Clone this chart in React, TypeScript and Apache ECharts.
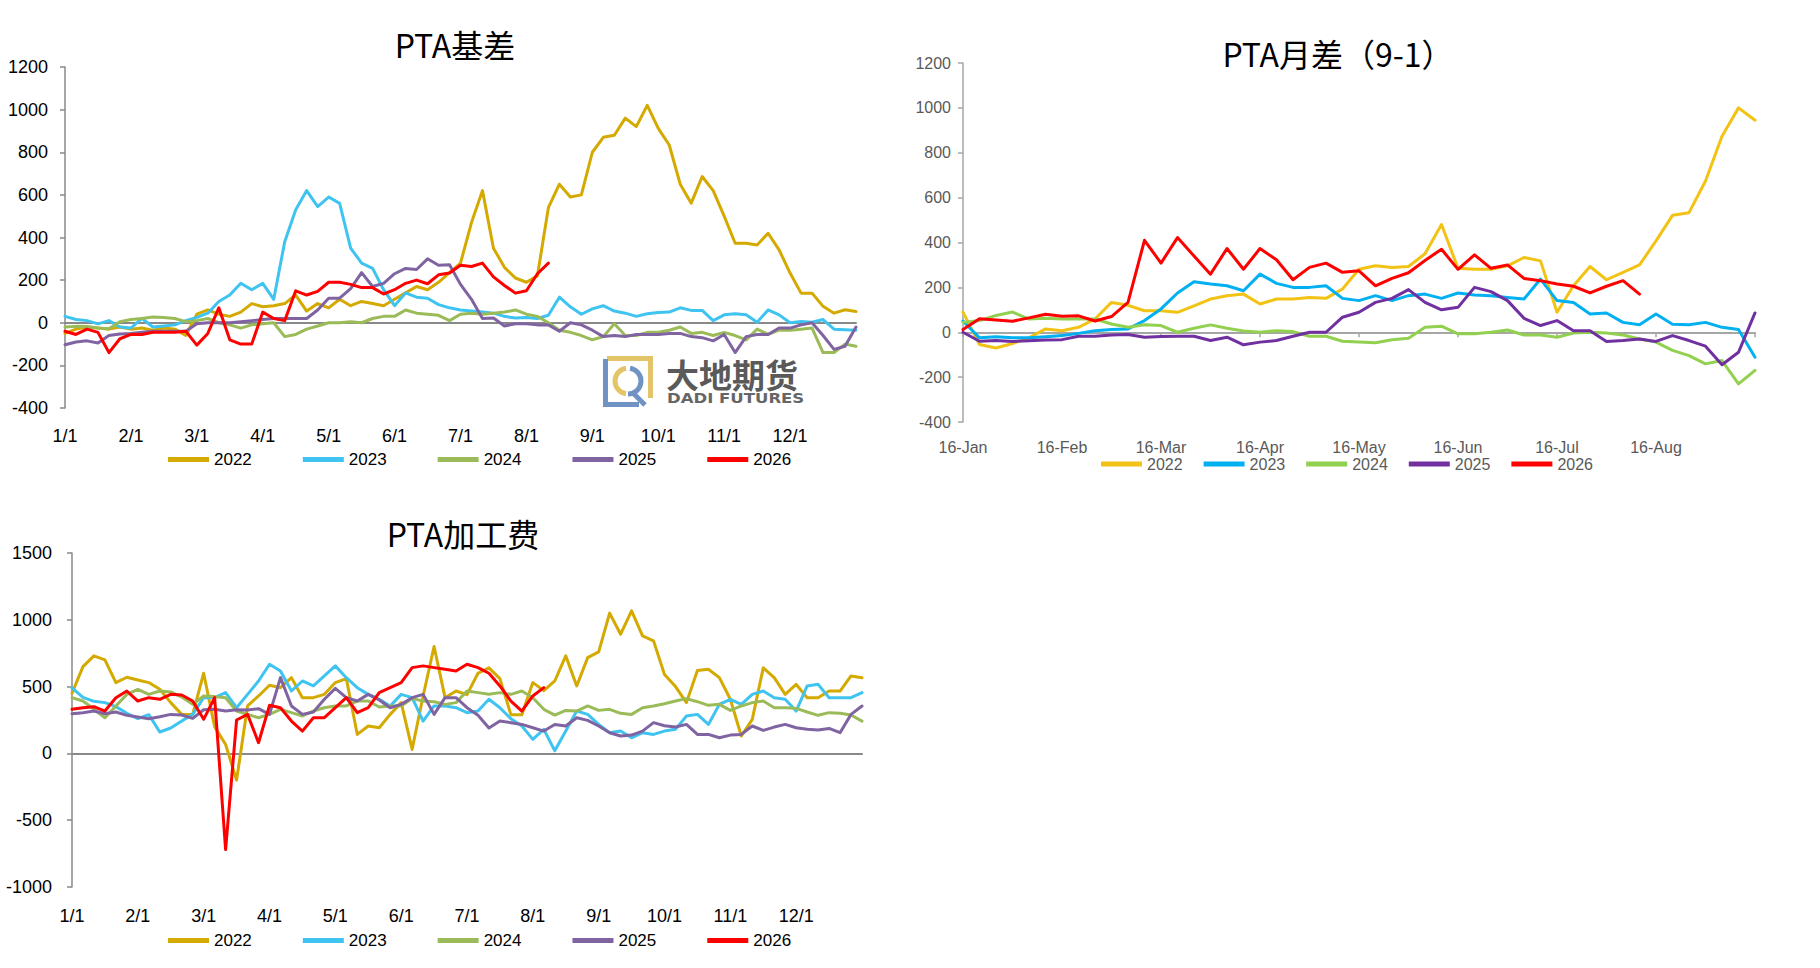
import React, { useEffect, useRef } from 'react';
import * as echarts from 'echarts';

// ---------- categories / ticks ----------
const years = ['2022', '2023', '2024', '2025', '2026'];
const monthTicks = ['1/1', '2/1', '3/1', '4/1', '5/1', '6/1', '7/1', '8/1', '9/1', '10/1', '11/1', '12/1'];
const yearEndTick = '12/31';
const spreadTicks = ['16-Jan', '16-Feb', '16-Mar', '16-Apr', '16-May', '16-Jun', '16-Jul', '16-Aug'];
const spreadEndTick = '16-Sep';
const STEPS_PER_MONTH = 6;

// ---------- PTA基差 ----------
const basis2022 = [-50, -30, -20, -25, -30, -20, -30, -25, -35, -25, -30, -60, 40, 60, 40, 30, 50, 90, 75, 80, 90, 130, 55, 90, 70, 110, 80, 100, 90, 80, 110, 140, 170, 155, 190, 235, 280, 470, 620, 350, 260, 210, 190, 220, 540, 650, 590, 600, 800, 870, 880, 960, 920, 1020, 912, 834, 650, 561, 686, 620, 500, 373, 373, 365, 420, 342, 233, 139, 139, 77, 45, 61, 53];
const basis2023 = [30, 15, 10, -5, 10, -20, -25, 20, -20, -15, -10, 10, 25, 45, 100, 130, 185, 155, 185, 110, 380, 530, 620, 545, 590, 560, 350, 280, 255, 155, 80, 140, 120, 115, 85, 70, 60, 55, 50, 45, 30, 22, 25, 20, 35, 120, 75, 40, 65, 80, 55, 45, 30, 42, 48, 50, 70, 58, 58, 10, 37, 42, 37, 2, 60, 37, 0, 6, 2, 15, -30, -33, -35];
const basis2024 = [-20, -17, -18, -25, -28, 5, 15, 20, 27, 25, 20, 5, 10, 20, 0, -10, -25, -10, -5, 0, -65, -55, -30, -15, 0, 0, 5, 0, 20, 30, 30, 60, 45, 40, 35, 10, 40, 45, 40, 45, 50, 60, 40, 30, 0, -35, -45, -60, -80, -65, -5, -60, -60, -45, -45, -35, -20, -50, -45, -60, -45, -60, -80, -30, -55, -35, -35, -30, -25, -140, -140, -100, -110];
const basis2025 = [-103, -90, -85, -95, -60, -53, -50, -45, -40, -40, -40, -40, -5, 0, 0, 0, 5, 10, 15, 20, 20, 20, 20, 60, 115, 115, 160, 235, 170, 185, 230, 255, 250, 300, 270, 272, 180, 110, 20, 22, -15, -5, -5, -10, -10, -40, 0, -10, -35, -65, -60, -65, -55, -55, -55, -50, -50, -65, -70, -85, -55, -140, -65, -55, -55, -25, -25, -10, 0, -60, -125, -110, -20];
const basis2026 = [-40, -55, -30, -45, -140, -75, -55, -55, -45, -45, -45, -40, -105, -50, 70, -80, -100, -100, 50, 20, 10, 150, 130, 147, 190, 190, 180, 165, 165, 135, 155, 185, 200, 183, 225, 233, 270, 264, 280, 215, 175, 139, 150, 230, 280];

// ---------- PTA月差（9-1） ----------
const spread2022 = [90, -55, -70, -50, -25, 15, 7, 22, 59, 133, 120, 96, 96, 89, 118, 148, 163, 170, 126, 148, 148, 155, 151, 193, 281, 296, 289, 293, 350, 480, 285, 281, 281, 296, 333, 318, 89, 207, 293, 234, 267, 300, 407, 521, 533, 674, 874, 1000, 945];
const spread2023 = [50, -25, -20, -25, -25, -20, -15, -5, 7, 12, 15, 52, 104, 175, 225, 215, 207, 185, 259, 218, 200, 200, 207, 151, 141, 163, 141, 163, 170, 151, 175, 166, 163, 155, 148, 237, 141, 133, 81, 86, 44, 33, 81, 36, 33, 44, 22, 12, -111];
const spread2024 = [44, 52, 75, 90, 59, 62, 59, 59, 59, 37, 22, 33, 30, 0, 18, 33, 18, 6, 0, 7, 3, -18, -18, -40, -44, -47, -33, -27, 22, 27, -7, -7, 0, 10, -12, -12, -22, -3, 0, -3, -12, -30, -44, -81, -104, -141, -126, -230, -170];
const spread2025 = [0, -40, -37, -41, -38, -34, -33, -18, -18, -12, -10, -22, -19, -18, -18, -37, -22, -56, -44, -37, -18, 0, 0, 67, 89, 133, 151, 190, 133, 100, 111, 200, 181, 141, 62, 30, 52, 7, 7, -41, -37, -30, -41, -15, -37, -62, -145, -89, 86];
const spread2026 = [12, 60, 55, 49, 64, 80, 71, 73, 50, 70, 133, 410, 308, 422, 340, 259, 373, 281, 373, 323, 234, 289, 308, 267, 274, 207, 240, 265, 320, 370, 280, 345, 285, 300, 240, 230, 215, 205, 175, 205, 230, 170];

// ---------- PTA加工费 ----------
const fee2022 = [450, 650, 730, 700, 530, 570, 550, 530, 480, 380, 292, 292, 600, 200, 67, -200, 355, 430, 510, 492, 567, 417, 417, 442, 530, 560, 142, 205, 192, 292, 380, 30, 430, 800, 417, 467, 440, 600, 640, 560, 290, 290, 530, 470, 542, 730, 505, 717, 760, 1050, 892, 1067, 880, 842, 590, 500, 380, 620, 630, 567, 405, 130, 255, 640, 567, 442, 517, 417, 417, 467, 467, 580, 567];
const fee2023 = [490, 420, 390, 380, 350, 300, 260, 290, 160, 190, 242, 292, 417, 417, 455, 342, 442, 542, 667, 617, 467, 542, 505, 580, 655, 567, 492, 442, 405, 355, 442, 417, 242, 355, 355, 342, 305, 317, 405, 342, 260, 205, 105, 180, 20, 167, 317, 292, 217, 155, 167, 117, 155, 142, 167, 180, 280, 292, 217, 367, 405, 367, 442, 467, 417, 405, 317, 505, 517, 417, 417, 417, 455];
const fee2024 = [417, 392, 330, 267, 355, 442, 480, 442, 467, 460, 422, 367, 430, 425, 417, 317, 292, 267, 292, 330, 305, 280, 317, 342, 355, 355, 392, 392, 347, 355, 355, 410, 392, 387, 367, 380, 467, 455, 442, 455, 442, 467, 417, 330, 287, 322, 317, 355, 322, 330, 300, 292, 342, 355, 372, 392, 410, 387, 360, 367, 322, 355, 380, 392, 342, 342, 337, 310, 285, 305, 300, 287, 242];
const fee2025 = [297, 305, 317, 297, 310, 285, 272, 260, 275, 292, 287, 262, 327, 330, 317, 327, 325, 335, 292, 567, 355, 292, 310, 405, 487, 417, 392, 442, 400, 342, 367, 417, 442, 292, 417, 417, 342, 285, 190, 242, 230, 217, 192, 167, 217, 205, 267, 247, 205, 155, 130, 137, 167, 230, 207, 197, 217, 142, 142, 117, 137, 142, 205, 172, 197, 217, 192, 180, 175, 187, 155, 292, 355];
const fee2026 = [330, 342, 350, 317, 417, 467, 392, 417, 405, 442, 437, 392, 255, 417, -720, 250, 292, 80, 360, 342, 242, 167, 267, 267, 342, 417, 305, 342, 455, 492, 530, 642, 655, 642, 630, 617, 667, 642, 600, 505, 392, 317, 430, 492];

// ---------- styles ----------
const basisColors = ['#D4A900', '#3FC3F0', '#9BBB59', '#8064A2', '#FF0000'];
const spreadColors = ['#F2C314', '#00B0F0', '#92D050', '#7030A0', '#FF0000'];
const FONT = '"Liberation Sans", Arial, sans-serif';
const CJK = '"Noto Sans CJK SC", "Noto Sans", sans-serif';

function buildCategories(ticks: string[], endTick: string): string[] {
  const cats: string[] = [];
  ticks.forEach((t) => {
    cats.push(t);
    for (let k = 1; k < STEPS_PER_MONTH; k++) cats.push(`${t}#${k}`);
  });
  cats.push(endTick);
  return cats;
}

const basisCats = buildCategories(monthTicks, yearEndTick);
const spreadCats = buildCategories(spreadTicks, spreadEndTick);

function labelAxis(gridIndex: number, cats: string[], ticks: string[], margin: number, color: string, fontSize: number) {
  return {
    type: 'category',
    gridIndex,
    data: cats,
    boundaryGap: false,
    position: 'bottom',
    axisLine: { show: false, onZero: false },
    axisTick: { show: false },
    splitLine: { show: false },
    axisLabel: {
      show: true,
      interval: STEPS_PER_MONTH - 1,
      margin,
      color,
      fontSize,
      fontFamily: FONT,
      formatter: (v: string) => (ticks.includes(v) ? v : ''),
    },
  };
}

function zeroAxis(gridIndex: number, cats: string[], color: string, withTicks: boolean) {
  return {
    type: 'category',
    gridIndex,
    data: cats,
    boundaryGap: false,
    position: 'top',
    axisLine: { show: true, onZero: true, lineStyle: { color, width: 2 } },
    axisTick: {
      show: withTicks,
      interval: STEPS_PER_MONTH - 1,
      inside: true,
      length: 5,
      lineStyle: { color, width: 1.5 },
    },
    axisLabel: { show: false },
    splitLine: { show: false },
  };
}

function valueAxis(gridIndex: number, min: number, max: number, interval: number, labelColor: string, lineColor: string, fontSize: number, margin: number) {
  return {
    type: 'value',
    gridIndex,
    min,
    max,
    interval,
    position: 'left',
    axisLine: { show: true, onZero: false, lineStyle: { color: lineColor, width: 1.5 } },
    axisTick: { show: true, inside: false, length: 5, lineStyle: { color: lineColor, width: 1.5 } },
    splitLine: { show: false },
    axisLabel: {
      show: true,
      color: labelColor,
      fontSize,
      margin,
      fontFamily: FONT,
      formatter: (v: number) => String(v),
    },
  };
}

function lineSeries(name: string, data: number[], color: string, xAxisIndex: number, yAxisIndex: number) {
  return {
    type: 'line',
    name,
    data,
    xAxisIndex,
    yAxisIndex,
    symbol: 'none',
    showSymbol: false,
    silent: true,
    lineStyle: { color, width: 3, cap: 'round', join: 'round' },
    itemStyle: { color },
    emphasis: { disabled: true },
  };
}

function legend(left: number, top: number, colors: string[], fontSize: number, textColor: string, itemGap: number) {
  return {
    show: true,
    orient: 'horizontal',
    left,
    top,
    icon: 'rect',
    itemWidth: 41,
    itemHeight: 5,
    itemGap,
    selectedMode: false,
    padding: 0,
    textStyle: { fontSize, color: textColor, fontFamily: FONT },
    data: years.map((y, i) => ({ name: y, itemStyle: { color: colors[i] } })),
  };
}

function title(text: string, x: number, y: number) {
  return {
    type: 'text',
    x,
    y,
    silent: true,
    style: {
      text,
      fontSize: 32,
      fontFamily: CJK,
      fill: '#000000',
      align: 'center',
      verticalAlign: 'middle',
    },
  };
}

const LOGO_GOLD = '#E4C468';
const LOGO_BLUE = '#7093C4';

function buildOption() {
  const basisSets = [basis2022, basis2023, basis2024, basis2025, basis2026];
  const spreadSets = [spread2022, spread2023, spread2024, spread2025, spread2026];
  const feeSets = [fee2022, fee2023, fee2024, fee2025, fee2026];

  const series: any[] = [];
  years.forEach((y, i) => series.push(lineSeries(y, basisSets[i], basisColors[i], 0, 0)));
  years.forEach((y, i) => series.push(lineSeries(y, spreadSets[i], spreadColors[i], 2, 1)));
  years.forEach((y, i) => series.push(lineSeries(y, feeSets[i], basisColors[i], 4, 2)));

  return {
    animation: false,
    backgroundColor: '#ffffff',
    textStyle: { fontFamily: FONT },
    grid: [
      { left: 65, top: 67, width: 791, height: 341, containLabel: false, outerBoundsMode: 'none' },
      { left: 963, top: 63, width: 792, height: 359, containLabel: false, outerBoundsMode: 'none' },
      { left: 72, top: 553, width: 790, height: 334, containLabel: false, outerBoundsMode: 'none' },
    ],
    xAxis: [
      labelAxis(0, basisCats, monthTicks, 19, '#000000', 18),
      zeroAxis(0, basisCats, '#898989', false),
      labelAxis(1, spreadCats, spreadTicks, 17, '#595959', 16),
      zeroAxis(1, spreadCats, '#A6A6A6', true),
      labelAxis(2, basisCats, monthTicks, 20, '#000000', 18),
      zeroAxis(2, basisCats, '#898989', false),
    ],
    yAxis: [
      valueAxis(0, -400, 1200, 200, '#000000', '#898989', 18, 17),
      valueAxis(1, -400, 1200, 200, '#595959', '#A6A6A6', 16, 12),
      valueAxis(2, -1000, 1500, 500, '#000000', '#898989', 18, 20),
    ],
    legend: [
      legend(168, 451, basisColors, 17, '#000000', 51),
      legend(1101, 456, spreadColors, 16, '#595959', 21),
      legend(168, 932, basisColors, 17, '#000000', 51),
    ],
    graphic: [
      title('PTA基差', 455, 44),
      title('PTA月差（9-1）', 1338, 53),
      title('PTA加工费', 463, 533),
      {
        type: 'group',
        x: 603,
        y: 356,
        silent: true,
        children: [
          { type: 'rect', shape: { x: 4, y: 0, width: 46, height: 5 }, style: { fill: LOGO_GOLD } },
          { type: 'rect', shape: { x: 45, y: 0, width: 5, height: 42 }, style: { fill: LOGO_GOLD } },
          { type: 'rect', shape: { x: 0, y: 3, width: 5, height: 48 }, style: { fill: LOGO_BLUE } },
          { type: 'rect', shape: { x: 0, y: 46, width: 36, height: 5 }, style: { fill: LOGO_BLUE } },
          {
            type: 'arc',
            shape: { cx: 25, cy: 25, r: 13, startAngle: Math.PI * 0.55, endAngle: Math.PI * 1.45, clockwise: true },
            style: { stroke: LOGO_GOLD, lineWidth: 5, fill: 'none' },
          },
          {
            type: 'arc',
            shape: { cx: 25, cy: 25, r: 13, startAngle: -Math.PI * 0.45, endAngle: Math.PI * 0.5, clockwise: true },
            style: { stroke: LOGO_BLUE, lineWidth: 5, fill: 'none' },
          },
          { type: 'line', shape: { x1: 30, y1: 37, x2: 42, y2: 49 }, style: { stroke: LOGO_BLUE, lineWidth: 5 } },
        ],
      },
      {
        type: 'text',
        x: 666,
        y: 374,
        silent: true,
        style: { text: '大地期货', fontSize: 33, fontWeight: 'bold', fontFamily: CJK, fill: '#5A5A5A', align: 'left', verticalAlign: 'middle' },
      },
      {
        type: 'text',
        x: 667,
        y: 398,
        scaleX: 1.18,
        silent: true,
        style: { text: 'DADI FUTURES', fontSize: 14, fontWeight: 'bold', fontFamily: '"DejaVu Sans", sans-serif', fill: '#666666', align: 'left', verticalAlign: 'middle' },
      },
    ],
    series,
  };
}

export default function App() {
  const ref = useRef<HTMLDivElement>(null);
  useEffect(() => {
    if (!ref.current) return;
    const chart = echarts.init(ref.current, undefined, { renderer: 'svg' });
    chart.setOption(buildOption() as any);
    return () => {
      chart.dispose();
    };
  }, []);
  return (
    <div
      ref={ref}
      style={{ position: 'absolute', left: 0, top: 0, width: 1820, height: 968, background: '#ffffff' }}
    />
  );
}
